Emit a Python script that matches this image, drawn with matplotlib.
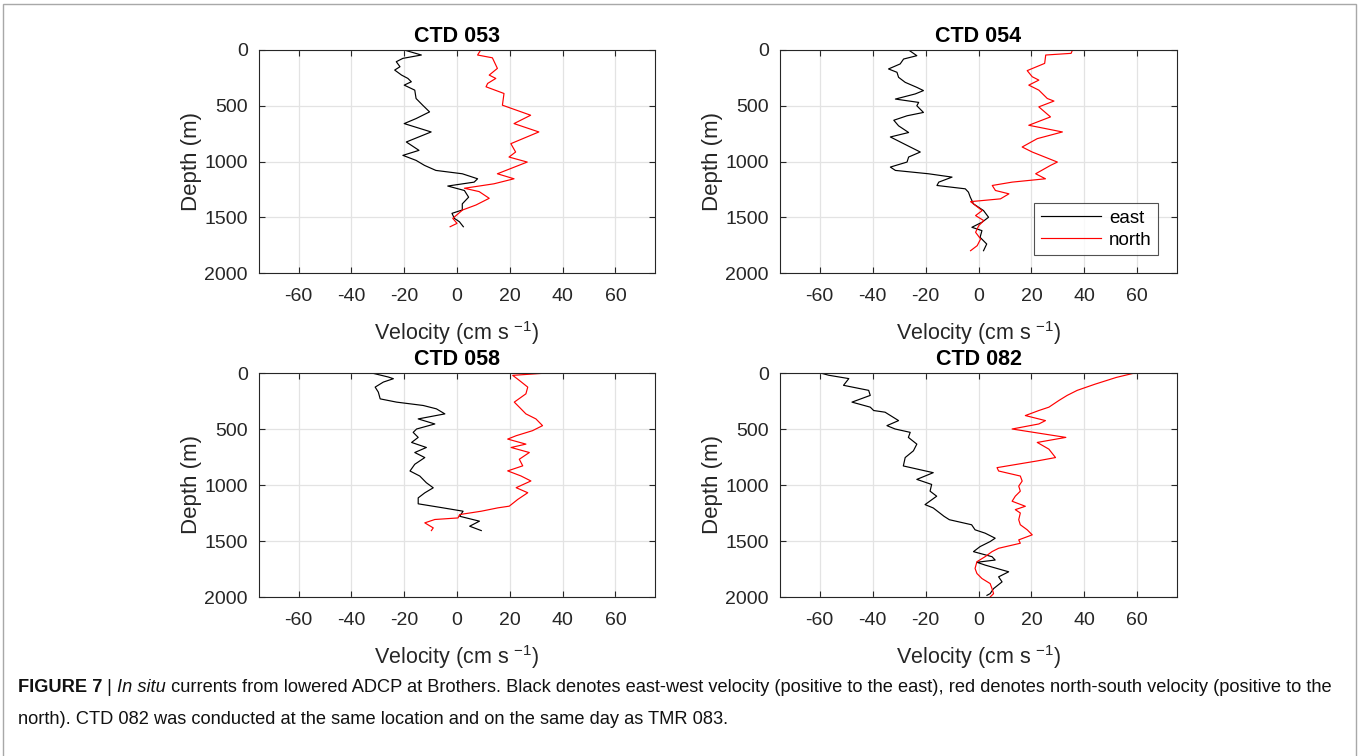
import matplotlib
matplotlib.use("Agg")
import matplotlib.pyplot as plt
from matplotlib.patches import Rectangle

plt.rcParams['font.family'] = ['Liberation Sans', 'DejaVu Sans']
plt.rcParams['mathtext.default'] = 'regular'
plt.rcParams['axes.unicode_minus'] = False

# profile data: depth (m) and velocity (cm/s)
ctd053_east_z = [0, 45, 75, 105, 150, 180, 225, 255, 285, 315, 360, 435, 495, 555, 615, 660, 735, 825, 900,
                 945, 990, 1035, 1080, 1110, 1155, 1185, 1220, 1260, 1320, 1380, 1435, 1465, 1510, 1540, 1585]
ctd053_east_u = [-20, -13.5, -20.5, -23, -21.6, -23.6, -21, -18.6, -17.3, -20, -16, -15.5, -13, -10.4, -15.5, -20,
                 -9.8, -19.2, -14.4, -20.5, -15.5, -12.3, -8, 2, 7.8, 6.5, -3.5, 2.8, 4.4, 2, 2, -1.9, -1, 0.9, 2.4]
ctd053_north_z = [0, 45, 70, 165, 225, 255, 300, 330, 390, 495, 585, 660, 735, 840, 915, 960, 1005, 1110,
                  1155, 1200, 1240, 1270, 1330, 1390, 1435, 1510, 1555, 1585]
ctd053_north_v = [9, 7.8, 13.4, 15.3, 12.2, 14.7, 11.6, 11, 17.8, 17.2, 27.9, 21.6, 31, 20.4, 22.2, 19.7, 26.6,
                  15.3, 21.6, 14, 2.8, 8.4, 12.2, 7.2, 2.1, -1.6, 0, -2.6]

ctd054_east_z = [0, 51, 81, 125, 170, 200, 245, 290, 335, 364, 394, 440, 470, 500, 560, 590, 630, 680, 740, 780,
                 840, 915, 960, 1005, 1050, 1080, 1110, 1140, 1185, 1215, 1245, 1275, 1320, 1380, 1440, 1500,
                 1545, 1590, 1620, 1680, 1740, 1800]
ctd054_east_u = [-26.4, -23.3, -28.3, -29.6, -34, -30.8, -30.2, -27.7, -23.3, -20.8, -23.9, -31.4, -22.6, -23.3,
                 -20.8, -27, -32, -30.2, -26.4, -33.3, -28.3, -22, -26.4, -27, -33.3, -31.4, -18.9, -10, -15,
                 -15.7, -5, -3.8, -3.1, -1.9, 1.9, 3.8, 1.3, -2.5, 1.3, 0.6, 3.1, 1.9]
ctd054_north_z = [0, 30, 45, 120, 185, 240, 270, 315, 360, 435, 458, 510, 600, 675, 735, 795, 870, 915, 1005,
                  1035, 1110, 1155, 1185, 1215, 1260, 1290, 1335, 1360, 1395, 1440, 1485, 1530, 1575, 1635,
                  1695, 1755, 1800]
ctd054_north_v = [35.5, 35, 25.4, 25, 18.4, 20.3, 22.8, 19, 22.8, 26, 28.5, 22.8, 27.2, 19, 31.7, 22.2, 16.5,
                  20.3, 29.8, 27.2, 21.6, 25.3, 12.7, 5.2, 6.4, 11.5, 8.3, -3, -1.1, 1.4, -1.1, 2, 0.1, -1.1,
                  0.8, -0.5, -3]

ctd058_east_z = [0, 36, 51, 81, 126, 171, 231, 260, 290, 320, 365, 410, 455, 500, 530, 575, 620, 665, 710, 755,
                 815, 875, 920, 980, 1025, 1070, 1115, 1168, 1204, 1234, 1279, 1323, 1368, 1407]
ctd058_east_u = [-32.3, -26, -24.1, -27.9, -31, -29.8, -29.1, -22.9, -12.8, -7.8, -4.6, -14.7, -8.4, -15.3,
                 -16.6, -14.7, -17.2, -11.6, -16, -12.2, -16, -17.8, -14.1, -11.6, -9, -12.2, -14.7, -14.7,
                 -5.3, 2.3, 1, 8.5, 4.8, 9.2]
ctd058_north_z = [0, 21, 66, 126, 186, 260, 305, 365, 410, 470, 515, 560, 590, 635, 665, 710, 770, 829, 874,
                  919, 964, 1024, 1069, 1129, 1189, 1204, 1234, 1264, 1294, 1308, 1338, 1383, 1407]
ctd058_north_v = [34.3, 21.1, 23.6, 26.8, 26.1, 21.7, 23.6, 26.1, 29.9, 32.4, 28.6, 22.4, 19.2, 26.1, 20.5,
                  27.4, 23.6, 24.9, 19.2, 24.2, 28, 22.4, 26.8, 23, 19.8, 15.5, 9.2, 1, 0.4, -8.4, -12.2, -9,
                  -9.7]

ctd082_east_z = [0, 20, 50, 110, 155, 200, 260, 305, 335, 350, 425, 470, 500, 530, 575, 635, 695, 755, 830, 890,
                 950, 995, 1055, 1100, 1175, 1205, 1280, 1310, 1355, 1400, 1430, 1475, 1505, 1550, 1595, 1640,
                 1670, 1690, 1715, 1775, 1820, 1865, 1925, 1970, 1985]
ctd082_east_u = [-59.7, -56.6, -49, -51, -41.5, -40.9, -47.8, -40.9, -39.6, -35.3, -30.2, -34.6, -31.5, -25.8,
                 -26.5, -23.3, -24.6, -27.7, -28.4, -17.1, -23.3, -17.7, -18.3, -15.8, -20.2, -17.1, -13,
                 -11, -2.6, -1.3, 2.5, 6.3, 4.4, 0.6, -1.9, 5.1, 6.3, -0.6, 2.5, 11.4, 7.6, 8.9, 5.7, 4.4, 3.2]
ctd082_north_z = [0, 40, 100, 155, 200, 245, 305, 335, 380, 425, 455, 500, 575, 620, 680, 755, 785, 845, 875,
                  920, 965, 1010, 1055, 1100, 1145, 1190, 1220, 1250, 1310, 1355, 1400, 1445, 1490, 1520, 1565,
                  1595, 1640, 1685, 1745, 1790, 1835, 1880, 1925, 1970, 2000]
ctd082_north_v = [59, 52, 44, 37.3, 33.5, 30.4, 26.6, 22.8, 17.7, 25.3, 22.8, 12.7, 33, 22.2, 26.6, 29.1,
                  22.2, 7, 7.6, 15.8, 16.5, 15.2, 15.8, 13.9, 12.7, 17.7, 13.9, 15.8, 15.2, 15.8, 18.4, 20.3,
                  15.2, 15.8, 7.6, 5.1, 2.5, -0.6, -1.3, -0.6, 1.3, 4.4, 5.1, 5.7, 4.4]

titles = ['CTD 053', 'CTD 054', 'CTD 058', 'CTD 082']
profiles = [
    (ctd053_east_z, ctd053_east_u, ctd053_north_z, ctd053_north_v),
    (ctd054_east_z, ctd054_east_u, ctd054_north_z, ctd054_north_v),
    (ctd058_east_z, ctd058_east_u, ctd058_north_z, ctd058_north_v),
    (ctd082_east_z, ctd082_east_u, ctd082_north_z, ctd082_north_v),
]
xticks = [-60, -40, -20, 0, 20, 40, 60]
yticks = [0, 500, 1000, 1500, 2000]

W, H = 1360, 756
fig = plt.figure(figsize=(W / 100, H / 100), dpi=100)

# axes boxes in pixels: left, top, right, bottom
boxes = [(259, 50, 655, 273), (780, 50, 1177, 273), (259, 373, 655, 597), (780, 373, 1177, 597)]
axc = '#262626'

for k, (l, t, r, b) in enumerate(boxes):
    ax = fig.add_axes([l / W, 1 - b / H, (r - l) / W, (b - t) / H])
    ez, eu, nz, nv = profiles[k]
    ax.plot(eu, ez, color='black', lw=0.85, label='east')
    ax.plot(nv, nz, color='red', lw=0.85, label='north')
    ax.set_xlim(-75, 75)
    ax.set_ylim(2000, 0)
    ax.set_xticks(xticks)
    ax.set_yticks(yticks)
    ax.grid(True, color='#e3e3e3', lw=0.9)
    ax.set_axisbelow(True)
    ax.tick_params(direction='in', top=True, right=True, length=4, width=0.8,
                   colors=axc, labelsize=14, pad=8)
    ax.tick_params(axis='x', pad=11)
    for s in ax.spines.values():
        s.set_color(axc)
        s.set_linewidth(0.8)
    ax.set_title(titles[k], fontsize=15.5, fontweight='bold', pad=6)
    ax.set_xlabel('Velocity (cm s $^{-1}$)', fontsize=15.5, color=axc, labelpad=10)
    ax.set_ylabel('Depth (m)', fontsize=16, color=axc, labelpad=2)
    if k == 1:
        leg = ax.legend(loc='lower right', bbox_to_anchor=(0.953, 0.08), fontsize=13.5,
                        fancybox=False, handlelength=3.2, handletextpad=0.45, borderpad=0.35,
                        labelspacing=0.25, borderaxespad=0)
        leg.get_frame().set_edgecolor(axc)
        leg.get_frame().set_linewidth(0.8)

# frame around the whole figure
fig.patches.append(Rectangle((3 / W, -0.01), (W - 7) / W, 1 - 4 / H + 0.01, transform=fig.transFigure,
                             fill=False, edgecolor='#a8a8a8', lw=1))

# caption
cap_font = ['Liberation Sans', 'DejaVu Sans']
renderer = fig.canvas.get_renderer()
line1 = [('FIGURE 7', 'normal', 'bold'), (' | ', 'normal', 'normal'), ('In situ', 'italic', 'normal'),
         (' currents from lowered ADCP at Brothers. Black denotes east-west velocity (positive to the east), '
          'red denotes north-south velocity (positive to the', 'normal', 'normal')]
line2 = [('north). CTD 082 was conducted at the same location and on the same day as TMR 083.',
          'normal', 'normal')]


def put_runs(runs, x, y, size):
    x0 = x
    for txt, style, weight in runs:
        tt = fig.text(x, y, txt, fontsize=size, family=cap_font, style=style,
                      fontweight=weight, va='center', ha='left', color='#111111')
        x += tt.get_window_extent(renderer=renderer).width / W
    return x - x0


# fit the first caption line to the width it takes in the figure
probe = fig.text(0, 0, ''.join(t for t, _, _ in line1), fontsize=13, family=cap_font)
cap_size = 13 * 1315 / probe.get_window_extent(renderer=renderer).width
probe.remove()

put_runs(line1, 18 / W, 1 - 687 / H, cap_size)
put_runs(line2, 18 / W, 1 - 720 / H, cap_size)

fig.savefig('out.png', dpi=100)
